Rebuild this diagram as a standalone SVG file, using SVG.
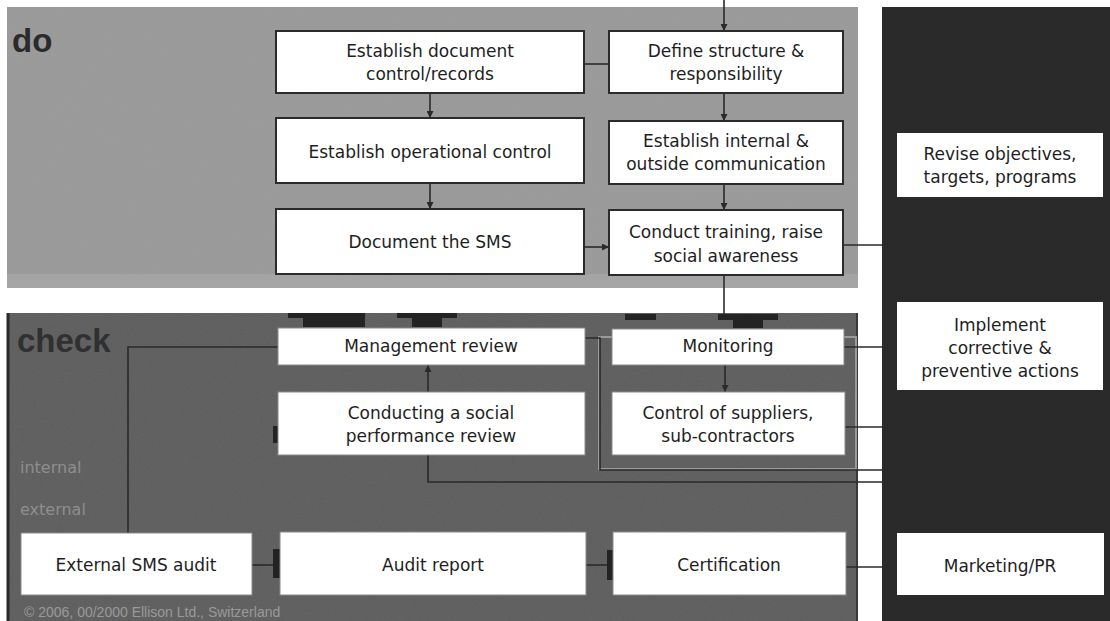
<svg xmlns="http://www.w3.org/2000/svg" width="1110" height="621" viewBox="0 0 1110 621">
<style>
.lbl{font-family:"DejaVu Sans","Liberation Sans",sans-serif;font-size:17px;fill:#1e1e1e;text-anchor:middle}
.rlbl{font-family:"DejaVu Sans","Liberation Sans",sans-serif;font-size:17px;fill:#1e1e1e;text-anchor:middle}
.dobox{fill:#ffffff;stroke:#2b2b2b;stroke-width:2}
.ckbox{fill:#ffffff;stroke:#8a8a8a;stroke-width:1}
.rbox{fill:#ffffff;stroke:none}
.ttl{font-family:"Liberation Sans",Arial,sans-serif;font-weight:bold;font-size:33px}
.side{font-family:"DejaVu Sans","Liberation Sans",sans-serif;font-size:16px;fill:#8e8e8e}
.cn{fill:none;stroke:#2a2a2a;stroke-width:1.6}
.tab{fill:#232323}
</style>
<defs>
<marker id="ah" viewBox="0 0 10 10" refX="10" refY="5" markerWidth="7" markerHeight="7" orient="auto" markerUnits="userSpaceOnUse">
<path d="M0,0 L10,5 L0,10 z" fill="#2a2a2a"/>
</marker>
<filter id="grain" x="0" y="0" width="100%" height="100%">
<feTurbulence type="fractalNoise" baseFrequency="0.9" numOctaves="2" seed="3" result="n"/>
<feColorMatrix in="n" type="matrix" values="0 0 0 0 0.5  0 0 0 0 0.5  0 0 0 0 0.5  0 0 0 0.35 0"/>
</filter>
</defs>
<rect width="1110" height="621" fill="#ffffff"/>
<g id="panels">
<rect id="do-panel" x="7" y="7" width="851" height="281" fill="#999999"/>
<rect x="7" y="7" width="851" height="281" fill="#000" filter="url(#grain)" opacity="0.3"/>
<rect x="7" y="274" width="851" height="14" fill="#b0b0b0" opacity="0.5"/>
<rect id="check-panel" x="7" y="313" width="851" height="308" fill="#5c5c5c"/>
<rect x="7" y="313" width="851" height="308" fill="#000" filter="url(#grain)" opacity="0.3"/>
<line x1="8" y1="313" x2="8" y2="621" stroke="#2a2a2a" stroke-width="3"/>
<line x1="857" y1="313" x2="857" y2="621" stroke="#3a3a3a" stroke-width="2"/>
<rect id="right-panel" x="882" y="7" width="228" height="614" fill="#2a2a2a"/>
<rect x="599" y="337" width="257" height="132" fill="none" stroke="#9a9a9a" stroke-width="2"/>
</g>
<text x="12" y="52" class="ttl" fill="#2a2a2a">do</text>
<text x="17" y="352" class="ttl" fill="#303030">check</text>
<text x="20" y="473" class="side">internal</text>
<text x="20" y="515" class="side">external</text>
<text x="24" y="617" font-family="Liberation Sans, Arial, sans-serif" font-size="14" fill="#9a9a9a">© 2006, 00/2000 Ellison Ltd., Switzerland</text>
<g id="connectors">
<path class="cn" d="M724,0 V31" marker-end="url(#ah)"/>
<path class="cn" d="M724,93 V121" marker-end="url(#ah)"/>
<path class="cn" d="M724,184 V210" marker-end="url(#ah)"/>
<path class="cn" d="M430,93 V118" marker-end="url(#ah)"/>
<path class="cn" d="M430,183 V209" marker-end="url(#ah)"/>
<path class="cn" d="M584,247 H609" marker-end="url(#ah)"/>
<path class="cn" d="M584,64 H609"/>
<path class="cn" d="M724,275 V316"/>
<path class="cn" d="M843,245 H882"/>
<path class="cn" d="M725,365 V392" marker-end="url(#ah)"/>
<path class="cn" d="M428,392 V365" marker-end="url(#ah)"/>
<path class="cn" d="M844,347 H882"/>
<path class="cn" d="M845,427 H882"/>
<path class="cn" d="M585,338 H600 V470 H882"/>
<path class="cn" d="M428,455 V482 H882"/>
<path class="cn" d="M846,567 H882"/>
<path class="cn" d="M128,533 V347 H278"/>
<path class="cn" d="M252,565 H280"/>
<path class="cn" d="M586,565 H613"/>
<rect class="tab" x="273" y="549" width="7" height="29"/>
<rect class="tab" x="607" y="550" width="6" height="30"/>
<rect class="tab" x="273" y="426" width="5" height="17"/>
<rect class="tab" x="288" y="313" width="77" height="5"/>
<rect class="tab" x="303" y="318" width="62" height="9"/>
<rect class="tab" x="397" y="313" width="60" height="5"/>
<rect class="tab" x="412" y="318" width="30" height="9"/>
<rect class="tab" x="625" y="314" width="31" height="6"/>
<rect class="tab" x="718" y="314" width="60" height="6"/>
<rect class="tab" x="733" y="320" width="30" height="8"/>
</g>
<g id="n-doc-control">
<rect class="dobox" x="276" y="31" width="308" height="62"/>
<text class="lbl" x="430" y="57">Establish document</text>
<text class="lbl" x="430" y="80">control/records</text>
</g>
<g id="n-define">
<rect class="dobox" x="609" y="31" width="234" height="62"/>
<text class="lbl" x="726" y="57">Define structure &amp;</text>
<text class="lbl" x="726" y="80">responsibility</text>
</g>
<g id="n-operational">
<rect class="dobox" x="276" y="118" width="308" height="65"/>
<text class="lbl" x="430" y="158">Establish operational control</text>
</g>
<g id="n-communication">
<rect class="dobox" x="609" y="121" width="234" height="63"/>
<text class="lbl" x="726" y="147">Establish internal &amp;</text>
<text class="lbl" x="726" y="170">outside communication</text>
</g>
<g id="n-document-sms">
<rect class="dobox" x="276" y="209" width="308" height="65"/>
<text class="lbl" x="430" y="248">Document the SMS</text>
</g>
<g id="n-training">
<rect class="dobox" x="609" y="210" width="234" height="65"/>
<text class="lbl" x="726" y="238">Conduct training, raise</text>
<text class="lbl" x="726" y="262">social awareness</text>
</g>
<g id="n-mgmt-review">
<rect class="ckbox" x="278" y="328" width="307" height="37"/>
<text class="lbl" x="431" y="352">Management review</text>
</g>
<g id="n-monitoring">
<rect class="ckbox" x="612" y="329" width="232" height="36"/>
<text class="lbl" x="728" y="352">Monitoring</text>
</g>
<g id="n-social-review">
<rect class="ckbox" x="278" y="392" width="307" height="63"/>
<text class="lbl" x="431" y="419">Conducting a social</text>
<text class="lbl" x="431" y="442">performance review</text>
</g>
<g id="n-suppliers">
<rect class="ckbox" x="612" y="392" width="233" height="63"/>
<text class="lbl" x="728" y="419">Control of suppliers,</text>
<text class="lbl" x="728" y="442">sub-contractors</text>
</g>
<g id="n-external-audit">
<rect class="ckbox" x="21" y="533" width="231" height="62"/>
<text class="lbl" x="136" y="571">External SMS audit</text>
</g>
<g id="n-audit-report">
<rect class="ckbox" x="280" y="532" width="306" height="63"/>
<text class="lbl" x="433" y="571">Audit report</text>
</g>
<g id="n-certification">
<rect class="ckbox" x="613" y="532" width="233" height="63"/>
<text class="lbl" x="729" y="571">Certification</text>
</g>
<g id="n-revise">
<rect class="rbox" x="897" y="133" width="206" height="64"/>
<text class="rlbl" x="1000" y="160">Revise objectives,</text>
<text class="rlbl" x="1000" y="183">targets, programs</text>
</g>
<g id="n-implement">
<rect class="rbox" x="897" y="302" width="206" height="88"/>
<text class="rlbl" x="1000" y="331">Implement</text>
<text class="rlbl" x="1000" y="354">corrective &amp;</text>
<text class="rlbl" x="1000" y="377">preventive actions</text>
</g>
<g id="n-marketing">
<rect class="rbox" x="897" y="533" width="207" height="62"/>
<text class="rlbl" x="1000" y="572">Marketing/PR</text>
</g>
</svg>
